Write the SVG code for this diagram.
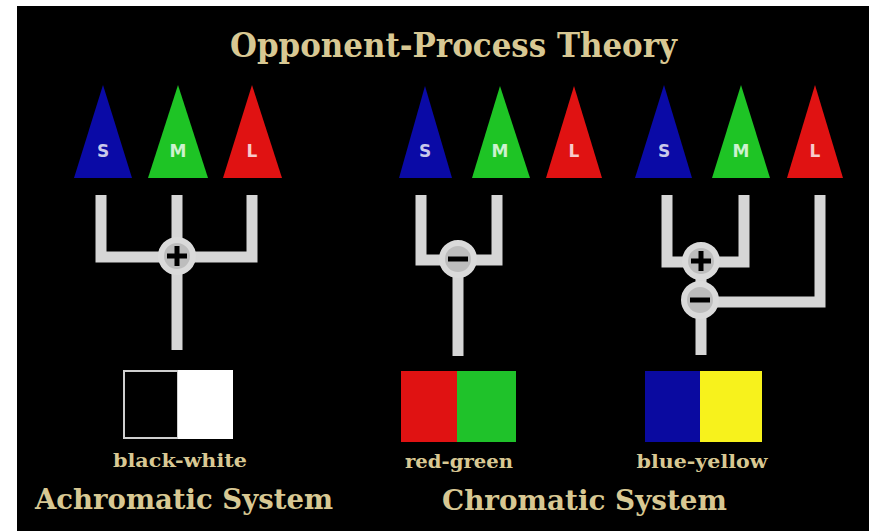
<svg xmlns="http://www.w3.org/2000/svg" width="869" height="531" viewBox="0 0 869 531">
  <style>
    .cap { font-family: "DejaVu Serif", "Liberation Serif", serif; font-weight: bold; fill: #d8c893; }
    .cone-label { font-family: "DejaVu Sans", "Liberation Sans", sans-serif; font-weight: bold; font-size: 17px; text-anchor: middle; fill: #ffffff; fill-opacity: 0.78; }
    .wire { fill: none; stroke: #d6d6d6; stroke-width: 11; stroke-linejoin: miter; stroke-linecap: butt; }
    .junction { fill: #bdbdbd; stroke: #dadada; stroke-width: 6; }
    .sign { stroke: #000; stroke-width: 5; stroke-linecap: butt; }
    .s { fill: #0a0aa6; }
    .m { fill: #1ec425; }
    .l { fill: #e01212; }
  </style>

  <!-- backdrop -->
  <rect x="0" y="0" width="869" height="531" fill="#ffffff"/>
  <rect x="17" y="6" width="852" height="525" fill="#000000"/>

  <text class="cap" x="230" y="57" font-size="34" textLength="447" lengthAdjust="spacingAndGlyphs">Opponent-Process Theory</text>

  <!-- connectors -->
  <g id="connectors">
    <!-- achromatic: S + M + L -->
    <path class="wire" d="M101,195 V257 H252 V195"/>
    <path class="wire" d="M177,195 V350"/>
    <!-- red-green: S vs M -->
    <path class="wire" d="M421,195 V260 H497 V195"/>
    <path class="wire" d="M458,260 V356"/>
    <!-- blue-yellow: (S + M) vs L -->
    <path class="wire" d="M667,195 V262 H744 V195"/>
    <path class="wire" d="M820,195 V302 H701"/>
    <path class="wire" d="M701,262 V355"/>
  </g>

  <!-- cones, first set -->
  <g id="cones-achromatic">
    <polygon class="s" points="103,85 74,178 132,178"/>
    <polygon class="m" points="178,85 148,178 208,178"/>
    <polygon class="l" points="252,85 223,178 282,178"/>
    <text class="cone-label" x="103" y="157">S</text>
    <text class="cone-label" x="178" y="157">M</text>
    <text class="cone-label" x="252" y="157">L</text>
  </g>

  <!-- cones, second set -->
  <g id="cones-red-green">
    <polygon class="s" points="425,86 399,178 452,178"/>
    <polygon class="m" points="500,86 472,178 530,178"/>
    <polygon class="l" points="574,86 546,178 602,178"/>
    <text class="cone-label" x="425" y="157">S</text>
    <text class="cone-label" x="500" y="157">M</text>
    <text class="cone-label" x="574" y="157">L</text>
  </g>

  <!-- cones, third set -->
  <g id="cones-blue-yellow">
    <polygon class="s" points="664,85 635,178 692,178"/>
    <polygon class="m" points="741,85 712,178 770,178"/>
    <polygon class="l" points="815,85 787,178 843,178"/>
    <text class="cone-label" x="664" y="157">S</text>
    <text class="cone-label" x="741" y="157">M</text>
    <text class="cone-label" x="815" y="157">L</text>
  </g>

  <!-- summing / opposing junctions -->
  <g id="junction-bw-plus">
    <circle class="junction" cx="177" cy="256" r="16"/>
    <path class="sign" d="M167,256 H187 M177,246 V266"/>
  </g>
  <g id="junction-rg-minus">
    <circle class="junction" cx="458" cy="259" r="16"/>
    <path class="sign" d="M448,259 H468"/>
  </g>
  <g id="junction-by-plus">
    <circle class="junction" cx="701" cy="261" r="16"/>
    <path class="sign" d="M691,261 H711 M701,251 V271"/>
  </g>
  <g id="junction-by-minus">
    <circle class="junction" cx="700" cy="300" r="16"/>
    <path class="sign" d="M690,300 H710"/>
  </g>

  <!-- output swatches -->
  <g id="swatch-black-white">
    <rect x="124" y="371" width="54" height="67" fill="#000" stroke="#cfcfcf" stroke-width="2"/>
    <rect x="178" y="370" width="55" height="69" fill="#ffffff"/>
    <text class="cap" x="180" y="467" font-size="19" text-anchor="middle" textLength="134" lengthAdjust="spacingAndGlyphs">black-white</text>
  </g>
  <g id="swatch-red-green">
    <rect x="401" y="371" width="57" height="71" fill="#e01212"/>
    <rect x="457" y="371" width="59" height="71" fill="#1fc22a"/>
    <text class="cap" x="459" y="468" font-size="19" text-anchor="middle" textLength="108" lengthAdjust="spacingAndGlyphs">red-green</text>
  </g>
  <g id="swatch-blue-yellow">
    <rect x="645" y="371" width="56" height="71" fill="#0a0aa0"/>
    <rect x="700" y="371" width="62" height="71" fill="#f7f21c"/>
    <text class="cap" x="702" y="468" font-size="19" text-anchor="middle" textLength="131" lengthAdjust="spacingAndGlyphs">blue-yellow</text>
  </g>

  <!-- system captions -->
  <text class="cap" x="35" y="509" font-size="28" textLength="298" lengthAdjust="spacingAndGlyphs">Achromatic System</text>
  <text class="cap" x="442" y="510" font-size="28" textLength="285" lengthAdjust="spacingAndGlyphs">Chromatic System</text>
</svg>
